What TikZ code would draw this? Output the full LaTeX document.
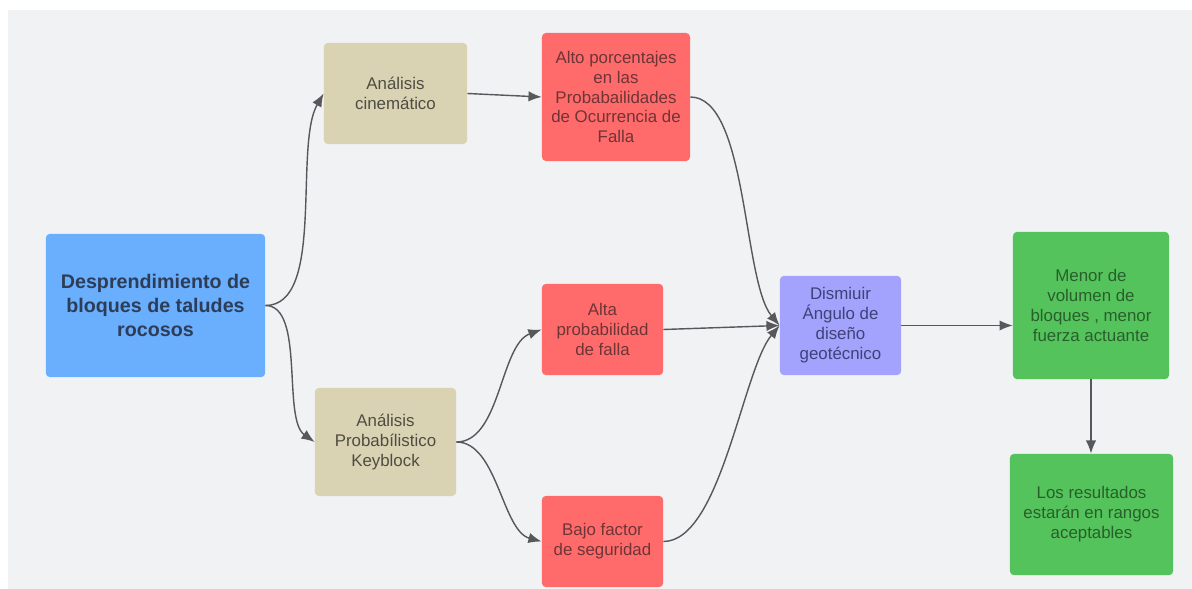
\documentclass[tikz,border=0pt]{standalone}
\usepackage{fontspec}
\setmainfont{Liberation Sans}
\usepackage{tikz}
\usetikzlibrary{arrows.meta,positioning}

\definecolor{fondo}{HTML}{F1F2F4}
\definecolor{azul}{HTML}{6AAEFE}
\definecolor{arena}{HTML}{D9D3B4}
\definecolor{rojo}{HTML}{FF6B6B}
\definecolor{lila}{HTML}{A3A3FD}
\definecolor{verde}{HTML}{55C35B}
\definecolor{linea}{HTML}{58585C}
\definecolor{txtazul}{HTML}{2E3D57}
\definecolor{txtarena}{HTML}{4F4C42}
\definecolor{txtrojo}{HTML}{6E3436}
\definecolor{txtlila}{HTML}{40407A}
\definecolor{txtverde}{HTML}{285F2C}

\begin{document}
\begin{tikzpicture}[x=0.025cm,y=-0.025cm,>={Latex[length=3.3mm,width=2.6mm]},
    caja/.style={rounded corners=1mm,align=center,inner sep=2pt,
      font=\fontsize{12}{14.2}\selectfont},
    flecha/.style={->,line width=1pt,draw=linea}]
  \useasboundingbox (0,0) rectangle (1192,589);
  \fill[fondo] (8,10) rectangle (1192,589);

  \node[caja,fill=azul,text=txtazul,minimum width=5.48cm,minimum height=3.58cm,%
    font=\fontsize{14}{17}\selectfont\bfseries] (desp) at (155.5,305.5)
    {Desprendimiento de\\bloques de taludes\\rocosos};
  \node[caja,fill=arena,text=txtarena,minimum width=3.58cm,minimum height=2.53cm] (cine) at (395.5,93.5)
    {Análisis\\cinemático};
  \node[caja,fill=arena,text=txtarena,minimum width=3.53cm,minimum height=2.7cm] (keyb) at (385.5,442)
    {Análisis\\Probabílistico\\Keyblock};
  \node[caja,fill=rojo,text=txtrojo,minimum width=3.7cm,minimum height=3.2cm] (alto) at (616,97)
    {Alto porcentajes\\en las\\Probabailidades\\de Ocurrencia de\\Falla};
  \node[caja,fill=rojo,text=txtrojo,minimum width=3.03cm,minimum height=2.28cm] (alta) at (602.5,329.5)
    {Alta\\probabilidad\\de falla};
  \node[caja,fill=rojo,text=txtrojo,minimum width=3.03cm,minimum height=2.28cm] (bajo) at (602.5,541.5)
    {Bajo factor\\de seguridad};
  \node[caja,fill=lila,text=txtlila,minimum width=3.03cm,minimum height=2.48cm] (dism) at (840.5,325.5)
    {Dismiuir\\Ángulo de\\diseño\\geotécnico};
  \node[caja,fill=verde,text=txtverde,minimum width=3.9cm,minimum height=3.68cm] (menor) at (1091,305.5)
    {Menor de\\volumen de\\bloques , menor\\fuerza actuante};
  \node[caja,fill=verde,text=txtverde,minimum width=4.08cm,minimum height=3.03cm] (result) at (1091.5,514.5)
    {Los resultados\\estarán en rangos\\aceptables};

  \draw[flecha] (desp.east) to[out=0,in=240,looseness=0.7] (cine.west);
  \draw[flecha] (desp.east) to[out=0,in=145,looseness=0.7] (keyb.west);
  \draw[flecha] (cine.east) -- (alto.west);
  \draw[flecha] (keyb.east) to[out=0,in=200,looseness=0.8] (alta.west);
  \draw[flecha] (keyb.east) to[out=0,in=165,looseness=0.8] (bajo.west);
  \draw[flecha] (alto.east) to[out=0,in=130,looseness=0.6] (dism.west);
  \draw[flecha] (alta.east) -- (dism.west);
  \draw[flecha] (bajo.east) to[out=0,in=230,looseness=0.6] (dism.west);
  \draw[flecha] (dism.east) -- (dism.east -| menor.west);
  \draw[flecha] (menor.south) -- (menor.south |- result.north);
\end{tikzpicture}
\end{document}
